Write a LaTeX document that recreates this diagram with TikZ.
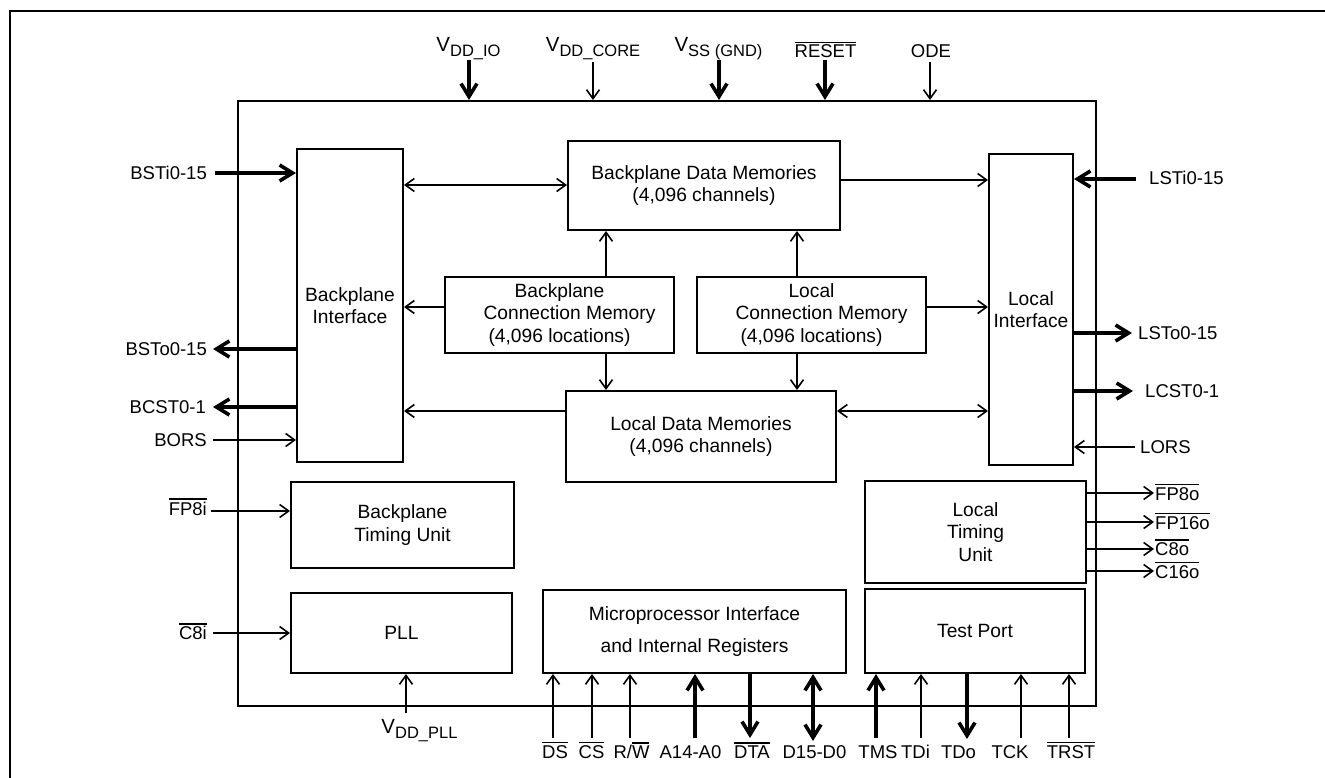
\documentclass[tikz,border=0pt]{standalone}
\usepackage{fontspec}
\setmainfont{Liberation Sans}
\usetikzlibrary{arrows.meta}
\newcommand\ovl[1]{\leavevmode\vbox{\hrule height 1.5pt\kern 1.6pt\hbox{#1}}}
\newcommand\Vs[1]{{\fontsize{20.5}{20.5}\selectfont V}\raisebox{-5pt}{\fontsize{16.5}{16.5}\selectfont #1}}
\begin{document}
\begin{tikzpicture}[x=1pt,y=-1pt,
  font=\fontsize{18.5}{22.5}\selectfont,
  blk/.style={draw,line width=2pt,inner sep=0pt,align=center,font=\fontsize{19.2}{22.7}\selectfont},
  ta/.style={line width=1.6pt,-{Straight Barb[length=9pt,width=13pt]}},
  tab/.style={line width=1.6pt,{Straight Barb[length=9pt,width=13pt]}-{Straight Barb[length=9pt,width=13pt]}},
  Ta/.style={line width=3.6pt,-{Straight Barb[length=13pt,width=16pt]}},
  Tab/.style={line width=3.6pt,{Straight Barb[length=13pt,width=16pt]}-{Straight Barb[length=13pt,width=16pt]}},
  lbl/.style={inner sep=0pt}
]
\useasboundingbox (0,0) rectangle (1325,778);
\draw[line width=2.5pt] (10,800) -- (10,11) -- (1345,11);
% chip
\node[blk,minimum width=858pt,minimum height=605pt,anchor=north west] (chip) at (237,100) {};
% blocks
\node[blk,minimum width=106pt,minimum height=313pt] (BI) at (350,305.5) {Backplane\\Interface};
\node[blk,minimum width=272pt,minimum height=89pt] (BDM) at (704,185.5) {Backplane Data Memories\\(4,096 channels)};
\node[blk,minimum width=229pt,minimum height=76pt] (BCM) at (559.5,315) {Backplane\\\hspace*{20pt}Connection Memory\\(4,096 locations)};
\node[blk,minimum width=229pt,minimum height=76pt] (LCM) at (811.5,315) {Local\\\hspace*{20pt}Connection Memory\\(4,096 locations)};
\node[blk,minimum width=270pt,minimum height=91pt] (LDM) at (701,436.5) {Local Data Memories\\(4,096 channels)};
\node[blk,minimum width=84pt,minimum height=311pt] (LI) at (1031,309.5) {Local\\Interface};
\node[blk,minimum width=223pt,minimum height=86pt] (BTU) at (402.5,525) {Backplane\\Timing Unit};
\node[blk,minimum width=221pt,minimum height=80pt] (PLL) at (401.5,633) {PLL};
\node[blk,minimum width=221pt,minimum height=102pt] (LTU) at (975.5,532) {Local\\Timing\\Unit};
\node[blk,minimum width=303pt,minimum height=83pt] (MPI) at (694.5,631.5) {Microprocessor Interface\\[9.5pt]and Internal Registers};
\node[blk,minimum width=220pt,minimum height=84pt] (TP) at (975,631) {Test Port};
% internal connectors
\coordinate (y185) at (0,185);
\coordinate (y180) at (0,180);
\coordinate (y307) at (0,307);
\coordinate (y411) at (0,411);
\coordinate (x606) at (606,0);
\coordinate (x797) at (797,0);
\draw[tab] (BI.east |- y185) -- (BDM.west |- y185);
\draw[ta] (BDM.east |- y180) -- (LI.west |- y180);
\draw[ta] (BCM.west |- y307) -- (BI.east |- y307);
\draw[ta] (LCM.east |- y307) -- (LI.west |- y307);
\draw[ta] (BCM.north -| x606) -- (BDM.south -| x606);
\draw[ta] (BCM.south -| x606) -- (LDM.north -| x606);
\draw[ta] (LCM.north -| x797) -- (BDM.south -| x797);
\draw[ta] (LCM.south -| x797) -- (LDM.north -| x797);
\draw[ta] (LDM.west |- y411) -- (BI.east |- y411);
\draw[tab] (LDM.east |- y411) -- (LI.west |- y411);
% left pins
\coordinate (pBSTi) at (215,173);
\coordinate (pBSTo) at (213,349);
\coordinate (pBCST) at (213,407);
\coordinate (pBORS) at (213,440);
\coordinate (pFPi) at (211,511);
\coordinate (pCi) at (213,633);
\node[lbl,anchor=base east] (lBSTi) at (207,179.5) {BSTi0-15};
\node[lbl,anchor=base east] (lBSTo) at (207,355.5) {BSTo0-15};
\node[lbl,anchor=base east] (lBCST) at (206,413.5) {BCST0-1};
\node[lbl,anchor=base east] (lBORS) at (207,446.5) {BORS};
\node[lbl,anchor=base east] (lFPi) at (207,515) {\ovl{FP8i}};
\node[lbl,anchor=base east] (lCi) at (207,639.5) {\ovl{C8i}};
\draw[Ta] (pBSTi) -- (BI.west |- pBSTi);
\draw[Ta] (BI.west |- pBSTo) -- (pBSTo);
\draw[Ta] (BI.west |- pBCST) -- (pBCST);
\draw[ta] (pBORS) -- (BI.west |- pBORS);
\draw[ta] (pFPi) -- (BTU.west |- pFPi);
\draw[ta] (pCi) -- (PLL.west |- pCi);
% right pins
\coordinate (pLSTi) at (1136,179);
\coordinate (pLSTo) at (1132,333);
\coordinate (pLCST) at (1133,391);
\coordinate (pLORS) at (1135,447);
\node[lbl,anchor=base west] (lLSTi) at (1149,184.5) {LSTi0-15};
\node[lbl,anchor=base west] (lLSTo) at (1138,339) {LSTo0-15};
\node[lbl,anchor=base west] (lLCST) at (1145,397.5) {LCST0-1};
\node[lbl,anchor=base west] (lLORS) at (1140,453.5) {LORS};
\draw[Ta] (pLSTi) -- (LI.east |- pLSTi);
\draw[Ta] (LI.east |- pLSTo) -- (pLSTo);
\draw[Ta] (LI.east |- pLCST) -- (pLCST);
\draw[ta] (pLORS) -- (LI.east |- pLORS);
% timing outputs
\coordinate (pFPo) at (1154,493);
\coordinate (pFPso) at (1154,522);
\coordinate (pCo) at (1154,549);
\coordinate (pCso) at (1154,571);
\node[lbl,anchor=base west] (lFPo) at (1155,500) {\ovl{FP8o}};
\node[lbl,anchor=base west] (lFPso) at (1155,529) {\ovl{FP16o}};
\node[lbl,anchor=base west] (lCo) at (1155,555.5) {\ovl{C8o}};
\node[lbl,anchor=base west] (lCso) at (1155,578) {\ovl{C16o}};
\draw[ta] (LTU.east |- pFPo) -- (pFPo);
\draw[ta] (LTU.east |- pFPso) -- (pFPso);
\draw[ta] (LTU.east |- pCo) -- (pCo);
\draw[ta] (LTU.east |- pCso) -- (pCso);
% top pins
\coordinate (pVIO) at (469,60);
\coordinate (pVCO) at (593,62);
\coordinate (pVSS) at (719,60);
\coordinate (pRST) at (825,60);
\coordinate (pODE) at (930,62);
\node[lbl,anchor=base] (lVIO) at (468.5,52) {\Vs{DD\_IO}};
\node[lbl,anchor=base] (lVCO) at (593,52) {\Vs{DD\_CORE}};
\node[lbl,anchor=base] (lVSS) at (718.5,52) {\Vs{SS (GND)}};
\node[lbl,anchor=base] (lRST) at (825.5,58) {\ovl{RESET}};
\node[lbl,anchor=base] (lODE) at (931,58) {ODE};
\draw[Ta] (pVIO) -- (pVIO |- chip.north);
\draw[ta] (pVCO) -- (pVCO |- chip.north);
\draw[Ta] (pVSS) -- (pVSS |- chip.north);
\draw[Ta] (pRST) -- (pRST |- chip.north);
\draw[ta] (pODE) -- (pODE |- chip.north);
% PLL supply
\coordinate (pVPLL) at (406,713);
\node[lbl,anchor=base] (lVPLL) at (419.5,733) {\Vs{DD\_PLL}};
\draw[ta] (pVPLL) -- (pVPLL |- PLL.south);
% bottom pins
\coordinate (pDS) at (553,738);
\coordinate (pCS) at (592,738);
\coordinate (pRW) at (630,738);
\coordinate (pA) at (695,738);
\coordinate (pDTA) at (750,738);
\coordinate (pD) at (813,741);
\coordinate (pTMS) at (876,738);
\coordinate (pTDi) at (921,738);
\coordinate (pTDo) at (967,739);
\coordinate (pTCK) at (1021,738);
\coordinate (pTRST) at (1069,738);
\node[lbl,anchor=base] (lDS) at (555,758) {\ovl{DS}};
\node[lbl,anchor=base] (lCS) at (591.5,758) {\ovl{CS}};
\node[lbl,anchor=base] (lRW) at (631.5,758) {R/\ovl{W}};
\node[lbl,anchor=base] (lA) at (690.5,758) {A14-A0};
\node[lbl,anchor=base] (lDTA) at (752,758) {\ovl{DTA}};
\node[lbl,anchor=base] (lD) at (814.5,758) {D15-D0};
\node[lbl,anchor=base] (lTMS) at (878,758) {TMS};
\node[lbl,anchor=base] (lTDi) at (915.5,758) {TDi};
\node[lbl,anchor=base] (lTDo) at (958.5,758) {TDo};
\node[lbl,anchor=base] (lTCK) at (1010,758) {TCK};
\node[lbl,anchor=base] (lTRST) at (1071,758) {\ovl{TRST}};
\draw[ta] (pDS) -- (pDS |- MPI.south);
\draw[ta] (pCS) -- (pCS |- MPI.south);
\draw[ta] (pRW) -- (pRW |- MPI.south);
\draw[Ta] (pA) -- (pA |- MPI.south);
\draw[Ta] (pDTA |- MPI.south) -- (pDTA);
\draw[Tab] (pD |- MPI.south) -- (pD);
\draw[Ta] (pTMS) -- (pTMS |- TP.south);
\draw[ta] (pTDi) -- (pTDi |- TP.south);
\draw[Ta] (pTDo |- TP.south) -- (pTDo);
\draw[ta] (pTCK) -- (pTCK |- TP.south);
\draw[ta] (pTRST) -- (pTRST |- TP.south);
\end{tikzpicture}
\end{document}
